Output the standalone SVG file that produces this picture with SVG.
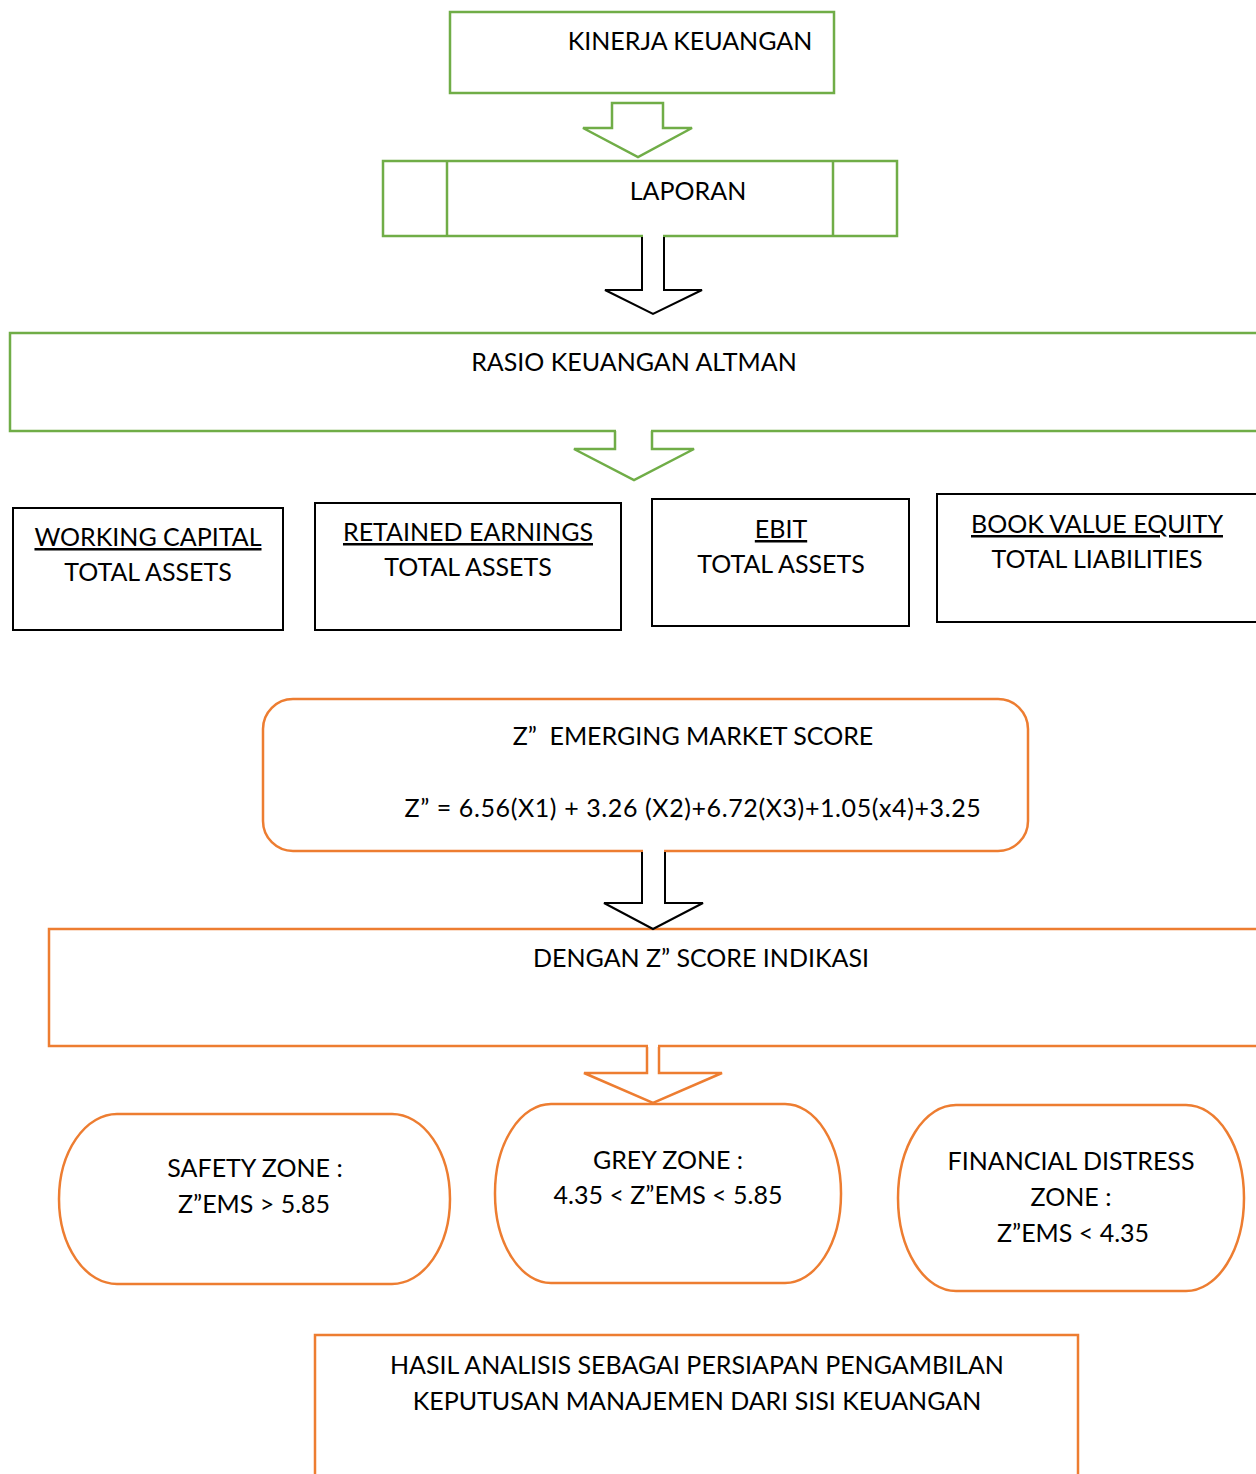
<svg xmlns="http://www.w3.org/2000/svg" width="1256" height="1474" viewBox="0 0 1256 1474">
<style>
text{font-family:Lato,"Open Sans","Liberation Sans",sans-serif;font-size:25px;fill:#000;text-anchor:middle}
.g{fill:#fff;stroke:#70AD47;stroke-width:2.5}
.o{fill:#fff;stroke:#ED7D31;stroke-width:2.5}
.k{fill:#fff;stroke:#000;stroke-width:2}
.u{text-decoration:underline}
</style>
<rect width="1256" height="1474" fill="#fff"/>
<g id="kinerja"><rect class="g" x="450" y="12" width="384" height="81"/><text x="690" y="50">KINERJA KEUANGAN</text></g>
<g id="laporan"><rect class="g" x="383" y="161" width="514" height="75"/><line class="g" x1="447" y1="161" x2="447" y2="236"/><line class="g" x1="833" y1="161" x2="833" y2="236"/><text x="688" y="200">LAPORAN</text></g>
<g id="rasio"><rect class="g" x="10" y="333" width="1260" height="98"/><text x="634" y="371">RASIO KEUANGAN ALTMAN</text></g>
<g id="x1"><rect class="k" x="13" y="508" width="270" height="122"/><text x="148" y="546" class="u">WORKING CAPITAL</text><text x="148" y="581">TOTAL ASSETS</text></g>
<g id="x2"><rect class="k" x="315" y="503" width="306" height="127"/><text x="468" y="541" class="u">RETAINED EARNINGS</text><text x="468" y="576">TOTAL ASSETS</text></g>
<g id="x3"><rect class="k" x="652" y="499" width="257" height="127"/><text x="781" y="538" class="u">EBIT</text><text x="781" y="573">TOTAL ASSETS</text></g>
<g id="x4"><rect class="k" x="937" y="494" width="330" height="128"/><text x="1097" y="533" class="u">BOOK VALUE EQUITY</text><text x="1097" y="568">TOTAL LIABILITIES</text></g>
<g id="zscore"><rect class="o" x="263" y="699" width="765" height="152" rx="30"/><text x="693" y="745">Z”&#160; EMERGING MARKET SCORE</text><text x="693" y="817" style="letter-spacing:0.6px">Z” = 6.56(X1) + 3.26 (X2)+6.72(X3)+1.05(x4)+3.25</text></g>
<g id="dengan"><rect class="o" x="49" y="929" width="1220" height="117"/><text x="701" y="967">DENGAN Z” SCORE INDIKASI</text></g>
<g id="safety"><rect class="o" x="59" y="1114" width="391" height="170" rx="58" ry="85"/><text x="255" y="1177">SAFETY ZONE :</text><text x="254" y="1213">Z”EMS &gt; 5.85</text></g>
<g id="grey"><rect class="o" x="495" y="1104" width="346" height="179" rx="56" ry="89"/><text x="668" y="1169">GREY ZONE :</text><text x="668" y="1204">4.35 &lt; Z”EMS &lt; 5.85</text></g>
<g id="distress"><rect class="o" x="898" y="1105" width="346" height="186" rx="58" ry="93"/><text x="1071" y="1170">FINANCIAL DISTRESS</text><text x="1071" y="1206">ZONE :</text><text x="1073" y="1242">Z”EMS &lt; 4.35</text></g>
<g id="hasil"><path class="o" d="M315 1480 V1335 H1078 V1480"/><text x="697" y="1374">HASIL ANALISIS SEBAGAI PERSIAPAN PENGAMBILAN</text><text x="697" y="1410">KEPUTUSAN MANAJEMEN DARI SISI KEUANGAN</text></g>
<g id="connectors">
<polygon class="g" points="612,103 663,103 663,128 692,128 638,157 583,128 612,128"/>
<polygon fill="#fff" stroke="none" points="643,234 663,234 663,290 643,290"/>
<polyline class="k" points="642,237 642,290 605,290 653,314 702,290 664,290 664,237"/>
<polygon fill="#fff" stroke="none" points="616,429 651,429 651,449 616,449"/>
<polyline class="g" points="615,431 615,449 574,449 634,480 694,449 652,449 652,431"/>
<polygon fill="#fff" stroke="none" points="643,849 664,849 664,904 643,904"/>
<polyline class="k" points="642,852 642,903 604,903 653,929 703,903 665,903 665,852"/>
<polygon fill="#fff" stroke="none" points="648,1044 658,1044 658,1074 648,1074"/>
<polyline class="o" points="647,1047 647,1073 584,1073 653,1103 722,1073 659,1073 659,1047"/>
</g>
</svg>
